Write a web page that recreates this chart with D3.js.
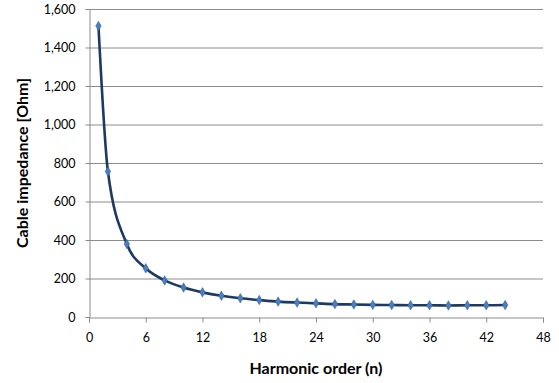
<!DOCTYPE html>
<html><head><meta charset="utf-8">
<script src="https://cdn.jsdelivr.net/npm/d3@7"></script>
<style>body{margin:0;background:#fff}svg{display:block}</style>
</head><body>
<script>
const harmonicOrder = [1,2,4,6,8,10,12,14,16,18,20,22,24,26,28,30,32,34,36,38,40,42,44];
const impedance = [1512,756,379,253,190,153,128,110,97,88,80,75,71,67,65,63,62,61,61,60,61,61,62];
const xTicks = [0,6,12,18,24,30,36,42,48];
const yTicks = [0,200,400,600,800,1000,1200,1400,1600];

const W=559,H=383;
const m={l:89,r:16,t:9,b:66};
const svg=d3.select("body").append("svg").attr("width",W).attr("height",H);
const x=d3.scaleLinear().domain([0,48]).range([m.l,W-m.r]);
const y=d3.scaleLinear().domain([0,1600]).range([H-m.b,m.t]);
const font="Lato, 'Open Sans', sans-serif";

svg.append("g").selectAll("line").data(yTicks.filter(d=>d>0)).join("line")
  .attr("x1",x(0)).attr("x2",x(48)).attr("y1",d=>y(d)+0.5).attr("y2",d=>y(d)+0.5)
  .attr("stroke","#8c8c8c").attr("stroke-width",1);

const xa=svg.append("g").attr("transform",`translate(0,${y(0)+0.5})`)
  .call(d3.axisBottom(x).tickValues(xTicks).tickSize(5).tickPadding(11).tickFormat(d3.format("d")));
const ya=svg.append("g").attr("transform",`translate(${x(0)+0.5},0)`)
  .call(d3.axisLeft(y).tickValues(yTicks).tickSize(4).tickPadding(10).tickFormat(d3.format(",")));
[xa,ya].forEach(a=>{
  a.selectAll("path,line").attr("stroke","#8c8c8c");
  a.selectAll("text").attr("font-family",font).attr("font-size",12.5).attr("fill","#000");
});

const pts=harmonicOrder.map((n,i)=>[n,impedance[i]]);
svg.append("path").datum(pts)
  .attr("d",d3.line().x(d=>x(d[0])).y(d=>y(d[1])).curve(d3.curveMonotoneX))
  .attr("fill","none").attr("stroke","#1c3a63").attr("stroke-width",2.6);

svg.append("g").selectAll("path").data(pts).join("path")
  .attr("transform",d=>`translate(${x(d[0])},${y(d[1])})`)
  .attr("d",d3.symbol(d3.symbolDiamond,26))
  .attr("fill","#4a7ebf").attr("stroke","#2a5a9a").attr("stroke-width",0.5);

svg.append("text").attr("x",(x(0)+x(48))/2).attr("y",374).attr("text-anchor","middle")
  .attr("font-family",font).attr("font-weight","bold").attr("font-size",16).text("Harmonic order (n)");
svg.append("text").attr("transform",`translate(28,${(y(0)+y(1600))/2}) rotate(-90)`).attr("text-anchor","middle")
  .attr("font-family",font).attr("font-weight","bold").attr("font-size",16).text("Cable impedance [Ohm]");
</script>
</body></html>
